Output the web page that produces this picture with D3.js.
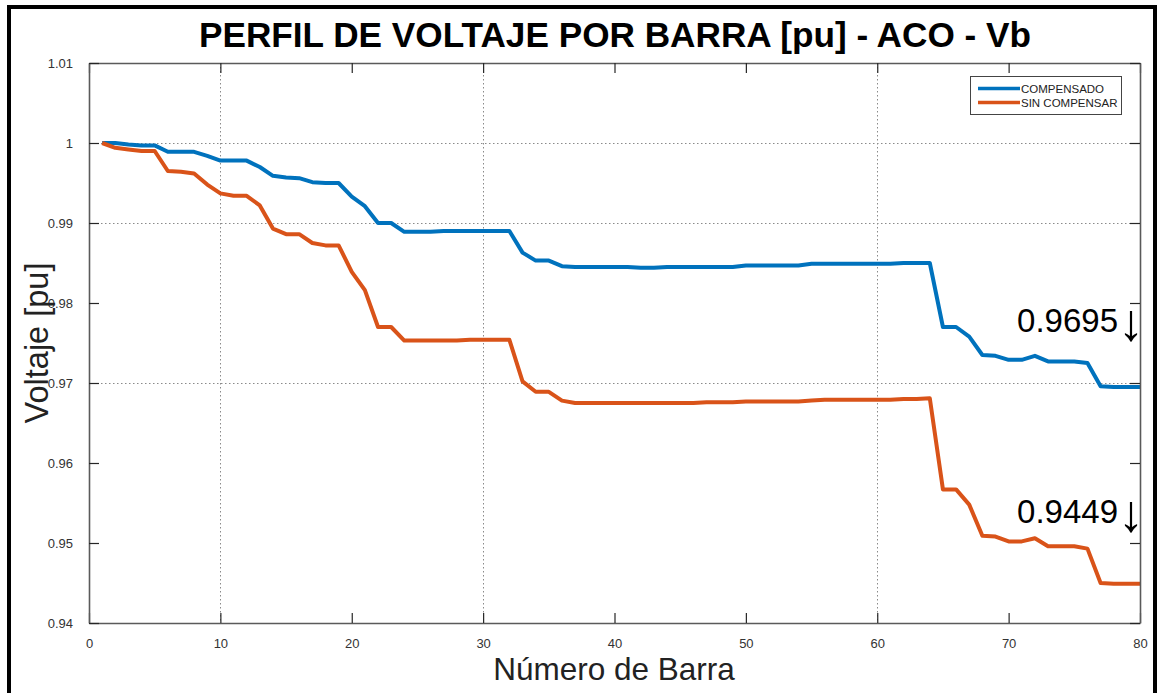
<!DOCTYPE html>
<html>
<head>
<meta charset="utf-8">
<script src="https://cdn.jsdelivr.net/npm/d3@7"></script>
<style>
  html, body { margin: 0; padding: 0; background: #fff; }
  svg { display: block; font-family: "Liberation Sans", Arial, sans-serif; }
</style>
</head>
<body>
<svg id="chart" width="1159" height="693"></svg>
<script>
// Bus voltage profile, compensated vs. uncompensated feeder
const barras = d3.range(1, 81);

const compensado = [
  1.0000, 1.0000, 0.9998, 0.9997, 0.9997, 0.9989, 0.9989, 0.9989, 0.9984, 0.9978,
  0.9978, 0.9978, 0.9970, 0.9959, 0.9957, 0.9956, 0.9951, 0.9950, 0.9950, 0.9933,
  0.9921, 0.9900, 0.9900, 0.9889, 0.9889, 0.9889, 0.9890, 0.9890, 0.9890, 0.9890,
  0.9890, 0.9890, 0.9863, 0.9853, 0.9853, 0.9846, 0.9845, 0.9845, 0.9845, 0.9845,
  0.9845, 0.9844, 0.9844, 0.9845, 0.9845, 0.9845, 0.9845, 0.9845, 0.9845, 0.9847,
  0.9847, 0.9847, 0.9847, 0.9847, 0.9849, 0.9849, 0.9849, 0.9849, 0.9849, 0.9849,
  0.9849, 0.9850, 0.9850, 0.9850, 0.9770, 0.9770, 0.9758, 0.9735, 0.9734, 0.9729,
  0.9729, 0.9734, 0.9727, 0.9727, 0.9727, 0.9725, 0.9696, 0.9695, 0.9695, 0.9695
];

const sinCompensar = [
  1.0000, 0.9994, 0.9992, 0.9990, 0.9990, 0.9965, 0.9964, 0.9962, 0.9948, 0.9937,
  0.9934, 0.9934, 0.9922, 0.9893, 0.9886, 0.9886, 0.9875, 0.9872, 0.9872, 0.9839,
  0.9816, 0.9770, 0.9770, 0.9753, 0.9753, 0.9753, 0.9753, 0.9753, 0.9754, 0.9754,
  0.9754, 0.9754, 0.9702, 0.9689, 0.9689, 0.9678, 0.9675, 0.9675, 0.9675, 0.9675,
  0.9675, 0.9675, 0.9675, 0.9675, 0.9675, 0.9675, 0.9676, 0.9676, 0.9676, 0.9677,
  0.9677, 0.9677, 0.9677, 0.9677, 0.9678, 0.9679, 0.9679, 0.9679, 0.9679, 0.9679,
  0.9679, 0.9680, 0.9680, 0.9681, 0.9567, 0.9567, 0.9548, 0.9509, 0.9508, 0.9502,
  0.9502, 0.9506, 0.9496, 0.9496, 0.9496, 0.9493, 0.9450, 0.9449, 0.9449, 0.9449
];

const seriesNames = ["COMPENSADO", "SIN COMPENSAR"];
const seriesColors = ["#0072BD", "#D95319"];

const xTicks = [0, 10, 20, 30, 40, 50, 60, 70, 80];
const yTicks = [0.94, 0.95, 0.96, 0.97, 0.98, 0.99, 1.00, 1.01];
const gridX = [10, 30, 60];
const gridY = [0.97, 0.99, 1.00];

const finales = [compensado[79], sinCompensar[79]];

const svg = d3.select("#chart");
const m = { left: 89, right: 1140, top: 63, bottom: 623 };

const x = d3.scaleLinear().domain([0, 80]).range([m.left, m.right]);
const y = d3.scaleLinear().domain([0.94, 1.01]).range([m.bottom, m.top]);

// outer frame
svg.append("rect")
  .attr("x", 9).attr("y", 7)
  .attr("width", 1146).attr("height", 710)
  .attr("fill", "none").attr("stroke", "#000").attr("stroke-width", 4);

// title
svg.append("text")
  .attr("x", 615).attr("y", 47)
  .attr("text-anchor", "middle")
  .attr("font-size", 35.2).attr("font-weight", "bold").attr("fill", "#000")
  .text("PERFIL DE VOLTAJE POR BARRA [pu] - ACO - Vb");

// grid
const grid = svg.append("g").attr("stroke", "#8a8a8a").attr("stroke-width", 1)
  .attr("stroke-dasharray", "1.5,2.5");
grid.selectAll(".gx").data(gridX).join("line")
  .attr("x1", d => Math.round(x(d)) + 0.5).attr("x2", d => Math.round(x(d)) + 0.5)
  .attr("y1", m.top).attr("y2", m.bottom);
grid.selectAll(".gy").data(gridY).join("line")
  .attr("y1", d => Math.round(y(d)) + 0.5).attr("y2", d => Math.round(y(d)) + 0.5)
  .attr("x1", m.left).attr("x2", m.right);

// series lines
const line = d3.line()
  .x((d, i) => x(barras[i]))
  .y(d => y(d));

[compensado, sinCompensar].forEach((serie, k) => {
  svg.append("path")
    .datum(serie)
    .attr("fill", "none")
    .attr("stroke", seriesColors[k])
    .attr("stroke-width", 4)
    .attr("stroke-linejoin", "round")
    .attr("d", line);
});

// axes (box with inward ticks on all sides)
const tickLen = 10;
const axisBottom = d3.axisBottom(x).tickValues(xTicks).tickSizeInner(-tickLen).tickSizeOuter(0)
  .tickPadding(tickLen + 6).tickFormat(d3.format("d"));
const axisTop = d3.axisTop(x).tickValues(xTicks).tickSizeInner(-tickLen).tickSizeOuter(0).tickFormat("");
const axisLeft = d3.axisLeft(y).tickValues(yTicks).tickSizeInner(-tickLen).tickSizeOuter(0)
  .tickPadding(tickLen + 6).tickFormat(d => String(+d.toFixed(2)));
const axisRight = d3.axisRight(y).tickValues(yTicks).tickSizeInner(-tickLen).tickSizeOuter(0).tickFormat("");

function styleAxis(g) {
  g.select(".domain").attr("stroke", "#5a5a5a").attr("stroke-width", 1.6);
  g.selectAll(".tick line").attr("stroke", "#262626").attr("stroke-width", 1.2);
  g.selectAll(".tick text").attr("fill", "#333").attr("font-size", 13)
    .attr("font-family", "'Liberation Sans', Arial, sans-serif");
}

svg.append("g").attr("transform", `translate(0,${m.bottom})`).call(axisBottom).call(styleAxis);
svg.append("g").attr("transform", `translate(0,${m.top})`).call(axisTop).call(styleAxis);
svg.append("g").attr("transform", `translate(${m.left},0)`).call(axisLeft).call(styleAxis);
svg.append("g").attr("transform", `translate(${m.right},0)`).call(axisRight).call(styleAxis);

// axis titles
svg.append("text")
  .attr("x", 614).attr("y", 680)
  .attr("text-anchor", "middle").attr("font-size", 31.5).attr("fill", "#222")
  .text("Número de Barra");
svg.append("text")
  .attr("transform", "translate(48,343) rotate(-90)")
  .attr("text-anchor", "middle").attr("font-size", 32.5).attr("fill", "#222")
  .text("Voltaje [pu]");

// final-value annotations
const offsets = [-55, -61];
finales.forEach((v, k) => {
  const t = svg.append("text")
    .attr("x", x(80) + 4).attr("y", y(v) + offsets[k])
    .attr("text-anchor", "end").attr("font-size", 33).attr("fill", "#000");
  t.append("tspan").text(v.toFixed(4));
  t.append("tspan").attr("font-size", 52).attr("dy", 8).text("↓");
});

// legend
const lg = svg.append("g");
lg.append("rect")
  .attr("x", 970.5).attr("y", 76.5).attr("width", 151).attr("height", 38)
  .attr("fill", "#fff").attr("stroke", "#444").attr("stroke-width", 1);
seriesNames.forEach((name, k) => {
  const yy = 88.5 + k * 14;
  lg.append("line")
    .attr("x1", 978).attr("x2", 1020).attr("y1", yy).attr("y2", yy)
    .attr("stroke", seriesColors[k]).attr("stroke-width", 3.5);
  lg.append("text")
    .attr("x", 1021).attr("y", yy + 4.3)
    .attr("font-size", 11.5).attr("fill", "#222")
    .text(name);
});
</script>
</body>
</html>
